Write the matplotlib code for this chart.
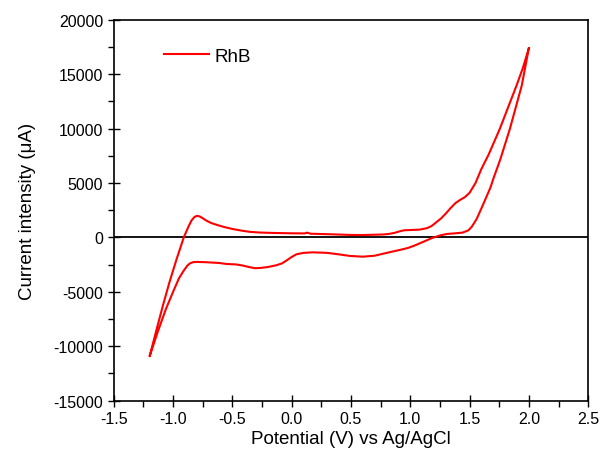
import matplotlib
matplotlib.use("Agg")
import matplotlib.pyplot as plt
from matplotlib.ticker import MultipleLocator

plt.rcParams['font.family'] = ['Liberation Sans', 'DejaVu Sans']
plt.rcParams['axes.unicode_minus'] = False

# anodic-side branch, from the switching point at 2.0 V going negative
upper_v = [2.00, 1.95, 1.896, 1.83, 1.755, 1.66, 1.60, 1.55, 1.50, 1.46, 1.42, 1.38,
           1.34, 1.30, 1.26, 1.22, 1.18, 1.14, 1.08, 1.00, 0.95, 0.91, 0.87, 0.82,
           0.77, 0.60, 0.49, 0.30, 0.16, 0.13, 0.11, 0.00, -0.15, -0.27, -0.35,
           -0.42, -0.50, -0.57, -0.63, -0.68, -0.72, -0.755, -0.78, -0.80, -0.82,
           -0.845, -0.87, -0.89, -0.91, -0.94, -0.97, -1.03, -1.086, -1.14, -1.198]
upper_i = [17400, 15600, 13960, 12100, 9980, 7600, 6300, 5000, 4100, 3700, 3450, 3150,
           2700, 2200, 1750, 1400, 1050, 850, 720, 680, 660, 560, 430, 320,
           270, 220, 230, 300, 340, 440, 370, 380, 410, 450, 510,
           620, 780, 960, 1150, 1330, 1550, 1800, 1950, 1980, 1880,
           1550, 1000, 500, 0, -1000, -1980, -4100, -6270, -8500, -10930]

# return branch, from -1.2 V back to 2.0 V
lower_v = [-1.198, -1.13, -1.06, -1.00, -0.95, -0.91, -0.88, -0.86, -0.83, -0.80,
           -0.72, -0.61, -0.55, -0.47, -0.41, -0.36, -0.31, -0.26, -0.20, -0.13,
           -0.08, -0.045, 0.00, 0.04, 0.10, 0.18, 0.30, 0.40, 0.49, 0.60, 0.70, 0.77,
           0.85, 0.92, 0.98, 1.04, 1.10, 1.18, 1.25, 1.31, 1.38, 1.44, 1.49, 1.52,
           1.56, 1.61, 1.645, 1.677, 1.70, 1.76, 1.84, 1.94, 2.00]
lower_i = [-10930, -8700, -6570, -5000, -3750, -3050, -2600, -2400, -2270, -2250,
           -2280, -2350, -2440, -2480, -2590, -2720, -2830, -2800, -2720, -2560,
           -2380, -2130, -1800, -1550, -1420, -1370, -1420, -1560, -1700, -1770, -1680, -1500,
           -1300, -1130, -970, -730, -450, -70, 180, 320, 380, 440, 650, 1000,
           1700, 2920, 3800, 4610, 5380, 7200, 9980, 13960, 17400]

fig = plt.figure(figsize=(6.02, 4.64), dpi=100)
ax = fig.add_axes([0.189, 0.1345, 0.788, 0.8205])

ax.plot(upper_v + lower_v[1:], upper_i + lower_i[1:], color='red', lw=1.5, label='RhB')
ax.axhline(0, color='black', lw=1.3, zorder=1)

ax.set_xlim(-1.5, 2.5)
ax.set_ylim(-15000, 20000)
ax.xaxis.set_major_locator(MultipleLocator(0.5))
ax.xaxis.set_minor_locator(MultipleLocator(0.25))
ax.yaxis.set_major_locator(MultipleLocator(5000))
ax.yaxis.set_minor_locator(MultipleLocator(2500))
ax.set_xticklabels([f'{v:.1f}' for v in ax.get_xticks()])
ax.tick_params(which='major', direction='inout', length=8, width=1, labelsize=11.5)
ax.tick_params(which='minor', direction='out', length=4, width=1)
for s in ax.spines.values():
    s.set_linewidth(1.2)

ax.set_xlabel('Potential (V) vs Ag/AgCl', fontsize=13.5, labelpad=3)
ax.set_ylabel('Current intensity (\u03bcA)', fontsize=13.5, labelpad=13)

ax.legend(loc='center left', bbox_to_anchor=(0.07, 0.905), frameon=False,
          fontsize=13.5, handlelength=2.4, handletextpad=0.3)

fig.savefig('out.png', dpi=100)
